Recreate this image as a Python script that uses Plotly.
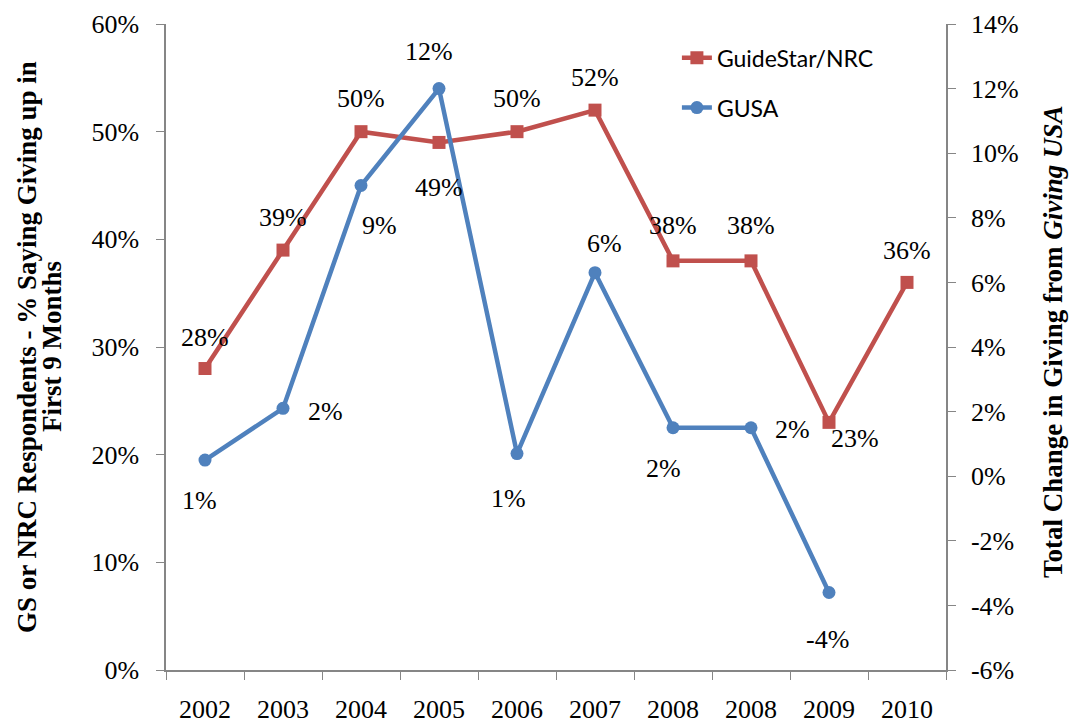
import plotly.graph_objects as go

# categories (the source chart repeats 2008)
years = ["2002", "2003", "2004", "2005", "2006", "2007", "2008", "2008", "2009", "2010"]
idx = list(range(len(years)))

# GuideStar/NRC share saying giving was up (left axis)
guidestar = [0.28, 0.39, 0.50, 0.49, 0.50, 0.52, 0.38, 0.38, 0.23, 0.36]
guidestar_labels = ["28%", "39%", "50%", "49%", "50%", "52%", "38%", "38%", "23%", "36%"]

# Giving USA total change (right axis), no 2010 value
gusa = [0.005, 0.021, 0.090, 0.120, 0.007, 0.063, 0.015, 0.015, -0.036, None]
gusa_labels = ["1%", "2%", "9%", "12%", "1%", "6%", "2%", "2%", "-4%", None]

# right axis ticks (hyphen minus like the source)
right_ticks = [-0.06, -0.04, -0.02, 0, 0.02, 0.04, 0.06, 0.08, 0.10, 0.12, 0.14]
right_text = ["-6%", "-4%", "-2%", "0%", "2%", "4%", "6%", "8%", "10%", "12%", "14%"]

left_title = ["GS or NRC Respondents - % Saying Giving up in", "First 9 Months"]
right_title = "Total Change in Giving from <i>Giving USA</i>"

# label offsets in px (xshift, yshift), styling only
gs_off = [(0, 31), (0, 33), (0, 33), (0, -45), (0, 33), (0, 33), (0, 35), (0, 35), (26, -16), (0, 32)]
gu_off = [(-6, -40), (42, -3), (18, -40), (-10, 37), (-9, -45), (9, 29), (-10, -41), (41, -2), (-2, -47), (0, 0)]

RED = "#C0504D"
BLUE = "#4F81BD"
AXIS = "#868686"
SERIF = "Liberation Serif"
FS = 26

fig = go.Figure()
fig.add_trace(go.Scatter(
    x=idx, y=guidestar, name="GuideStar/NRC", mode="lines+markers",
    line=dict(color=RED, width=4.5),
    marker=dict(symbol="square", size=13, color=RED),
    legendgroup="a",
))
fig.add_trace(go.Scatter(
    x=idx, y=gusa, name="GUSA", mode="lines+markers", yaxis="y2",
    line=dict(color=BLUE, width=4.5),
    marker=dict(symbol="circle", size=13, color=BLUE),
    legendgroup="b",
))

annotations = []
for i, v in enumerate(guidestar):
    annotations.append(dict(
        x=idx[i], y=v, xref="x", yref="y", text=guidestar_labels[i], showarrow=False,
        xshift=gs_off[i][0], yshift=gs_off[i][1], font=dict(family=SERIF, size=FS, color="black"),
    ))
for i, v in enumerate(gusa):
    if v is None:
        continue
    annotations.append(dict(
        x=idx[i], y=v, xref="x", yref="y2", text=gusa_labels[i], showarrow=False,
        xshift=gu_off[i][0], yshift=gu_off[i][1], font=dict(family=SERIF, size=FS, color="black"),
    ))

# axis titles as annotations so the line spacing can be kept tight
title_font = dict(family=SERIF, size=27, color="black", weight="bold")
for line, shift in zip(left_title, [-139, -114]):
    annotations.append(dict(
        x=0, y=0.5, xref="paper", yref="paper", text=line, showarrow=False,
        xanchor="center", yanchor="middle",
        textangle=-90, xshift=shift, font=title_font,
    ))
annotations.append(dict(
    x=1, y=0.5, xref="paper", yref="paper", text=right_title, showarrow=False,
    xanchor="center", yanchor="middle",
    textangle=-90, xshift=107, yshift=5, font=title_font,
))

# the page adds an 8px body margin, so the figure starts at (8, 8)
fig.update_layout(
    width=1070, height=715,
    margin=dict(l=158, r=132, t=16, b=53, autoexpand=False),
    paper_bgcolor="white", plot_bgcolor="white",
    font=dict(family=SERIF, size=FS, color="black"),
    showlegend=True,
    legend=dict(
        x=0.655, y=0.981, xanchor="left", yanchor="top",
        font=dict(family="Lato", size=23, color="black"),
        bgcolor="rgba(0,0,0,0)", tracegroupgap=17,
    ),
    annotations=annotations,
    xaxis=dict(
        range=[-0.5, 9.5], tickvals=idx, ticktext=years, automargin=False,
        ticks="outside", ticklen=15, tickcolor="rgba(0,0,0,0)",
        showline=True, linecolor=AXIS, linewidth=1.5, showgrid=False, zeroline=False,
        minor=dict(tick0=-0.5, dtick=1, ticks="outside", ticklen=8, tickcolor=AXIS, showgrid=False),
        tickfont=dict(family=SERIF, size=FS),
    ),
    yaxis=dict(
        range=[0, 0.6], dtick=0.1, tickformat=".0%", automargin=False,
        ticks="outside", ticklen=8, tickcolor=AXIS, ticklabelstandoff=12,
        showline=True, linecolor=AXIS, linewidth=1.5, showgrid=False, zeroline=False,
        tickfont=dict(family=SERIF, size=FS),
    ),
    yaxis2=dict(
        range=[-0.06, 0.14], tickvals=right_ticks, ticktext=right_text,
        overlaying="y", side="right", automargin=False,
        ticks="outside", ticklen=8, tickcolor=AXIS, ticklabelstandoff=10,
        showline=True, linecolor=AXIS, linewidth=1.5, showgrid=False, zeroline=False,
        tickfont=dict(family=SERIF, size=FS),
    ),
)

fig.write_html("out.html")
